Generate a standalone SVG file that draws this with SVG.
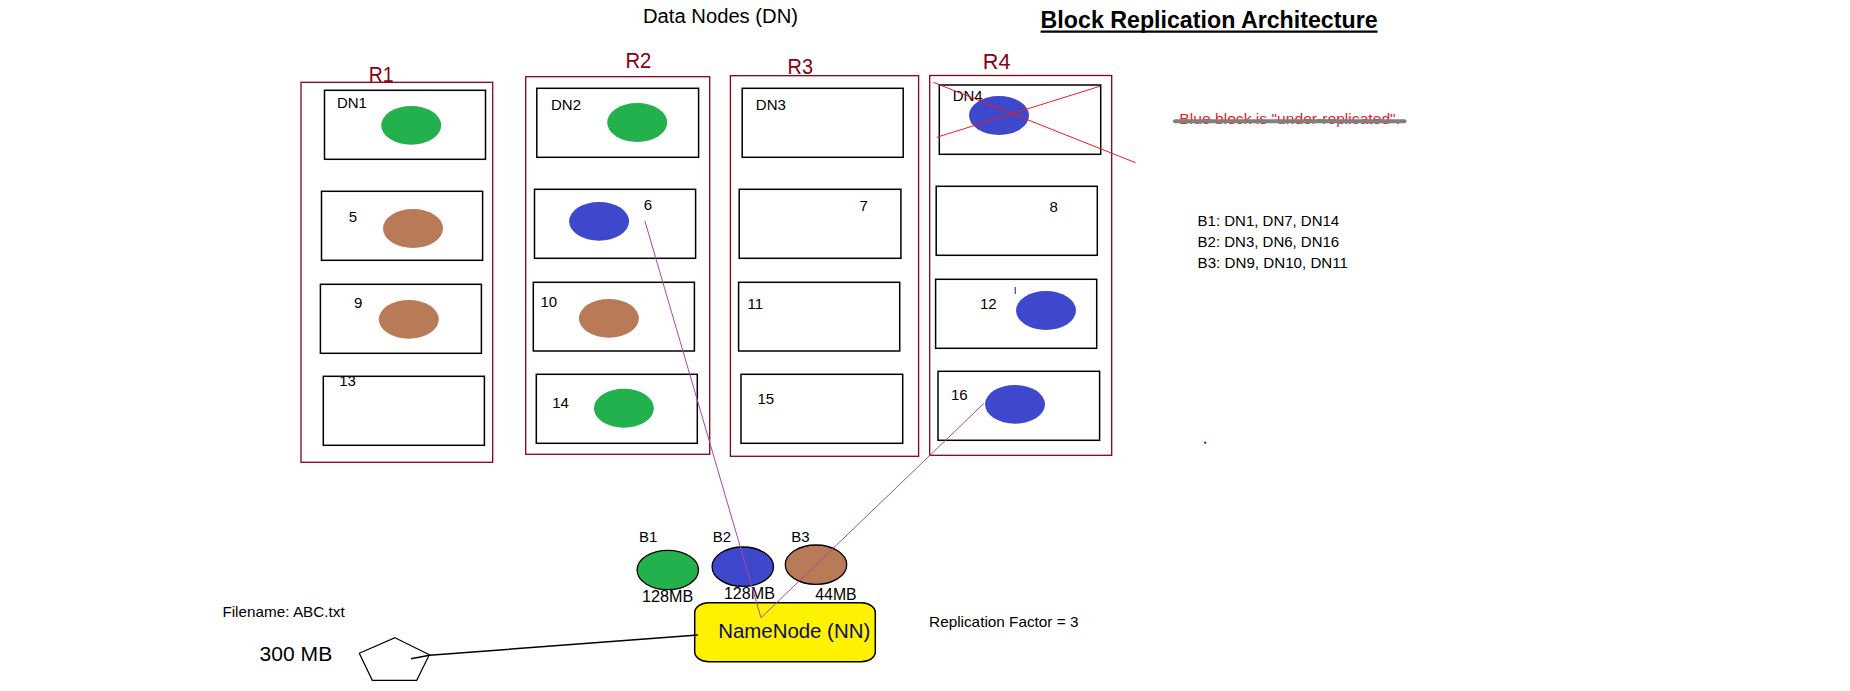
<svg xmlns="http://www.w3.org/2000/svg" width="1850" height="691" viewBox="0 0 1850 691">
<style>
text{font-family:"Liberation Sans",Arial,sans-serif;fill:#000}
.lbl{font-size:15px}
.rk{font-size:22px;fill:#880015}
.rack{fill:none;stroke:#880015;stroke-width:1.3}
.dn{fill:#fff;stroke:#000;stroke-width:1.5}
.g{fill:#22B14C}.br{fill:#B97A57}.bl{fill:#3F48CC}
.blk{stroke:#000;stroke-width:1.3}
.pl{fill:none;stroke:#A349A4;stroke-width:1}
</style>
<rect width="1850" height="691" fill="#fff"/>
<text x="643" y="23.3" font-size="20" textLength="155" lengthAdjust="spacingAndGlyphs">Data Nodes (DN)</text>
<g id="title">
<text x="1040.6" y="28.3" font-size="23" font-weight="bold" textLength="337" lengthAdjust="spacingAndGlyphs">Block Replication Architecture</text>
<line x1="1040.6" y1="31.7" x2="1377.5" y2="31.7" stroke="#000" stroke-width="2.3"/>
</g>
<g id="R1">
<rect class="rack" x="301" y="82.3" width="191.7" height="380"/>
<text class="rk" x="368.7" y="81.7" textLength="24.8" lengthAdjust="spacingAndGlyphs">R1</text>
</g>
<g id="R2">
<rect class="rack" x="525.7" y="76.7" width="184" height="377.6"/>
<text class="rk" x="625.4" y="68.3" textLength="25.9" lengthAdjust="spacingAndGlyphs">R2</text>
</g>
<g id="R3">
<rect class="rack" x="730.4" y="75.7" width="188.2" height="380.6"/>
<text class="rk" x="787.6" y="74" textLength="25.4" lengthAdjust="spacingAndGlyphs">R3</text>
</g>
<g id="R4">
<rect class="rack" x="929.7" y="75.5" width="182" height="379.8"/>
<text class="rk" x="982.8" y="69.3" textLength="27.7" lengthAdjust="spacingAndGlyphs">R4</text>
</g>
<g id="DN1"><rect class="dn" x="324.5" y="90.3" width="161" height="69"/><text class="lbl" x="336.9" y="108.3">DN1</text><ellipse class="g" cx="411.2" cy="125.3" rx="30" ry="19.4"/></g>
<g id="DN2"><rect class="dn" x="536.8" y="88.3" width="161.8" height="69"/><text class="lbl" x="551" y="110">DN2</text><ellipse class="g" cx="637.2" cy="122.5" rx="30" ry="19.5"/></g>
<g id="DN3"><rect class="dn" x="742.2" y="88.3" width="161" height="69"/><text class="lbl" x="755.8" y="110">DN3</text></g>
<g id="DN4"><rect class="dn" x="939.3" y="85" width="161.4" height="69.3"/><text class="lbl" x="952.7" y="101">DN4</text><ellipse class="bl" cx="999" cy="115.5" rx="30" ry="19.5"/></g>
<g id="DN5"><rect class="dn" x="321.5" y="191.3" width="161.1" height="69"/><text class="lbl" x="348.7" y="221.7">5</text><ellipse class="br" cx="413" cy="228.5" rx="30" ry="19.5"/></g>
<g id="DN6"><rect class="dn" x="534.5" y="189.3" width="161.1" height="69"/><text class="lbl" x="643.7" y="210">6</text><ellipse class="bl" cx="599.1" cy="221.3" rx="30" ry="19.4"/></g>
<g id="DN7"><rect class="dn" x="739.2" y="189.3" width="161.7" height="69"/><text class="lbl" x="859.6" y="210.7">7</text></g>
<g id="DN8"><rect class="dn" x="936.2" y="186.3" width="161.1" height="69"/><text class="lbl" x="1049.5" y="211.7">8</text></g>
<g id="DN9"><rect class="dn" x="320.4" y="284.3" width="161" height="69"/><text class="lbl" x="354" y="308.3">9</text><ellipse class="br" cx="408.8" cy="319.3" rx="30" ry="19.4"/></g>
<g id="DN10"><rect class="dn" x="533.3" y="282.3" width="161.1" height="68.7"/><text class="lbl" x="540.4" y="306.7">10</text><ellipse class="br" cx="608.9" cy="318.3" rx="30" ry="19.4"/></g>
<g id="DN11"><rect class="dn" x="738.6" y="282.3" width="161.1" height="68.7"/><text class="lbl" x="747.5" y="309">11</text></g>
<g id="DN12"><rect class="dn" x="935.6" y="279.3" width="161.1" height="69"/><text class="lbl" x="979.9" y="309">12</text><line x1="1015.2" y1="287" x2="1015.2" y2="294" stroke="#223" stroke-width="1"/><ellipse class="bl" cx="1046" cy="310.5" rx="30" ry="19.5"/></g>
<g id="DN13"><rect class="dn" x="323.3" y="376.3" width="161.1" height="69"/><text class="lbl" x="339.2" y="385.7">13</text></g>
<g id="DN14"><rect class="dn" x="536.3" y="374.3" width="161" height="69"/><text class="lbl" x="552.2" y="408.3">14</text><ellipse class="g" cx="623.9" cy="408.2" rx="30" ry="19.5"/></g>
<g id="DN15"><rect class="dn" x="741" y="374.3" width="161.7" height="69"/><text class="lbl" x="757.5" y="404">15</text></g>
<g id="DN16"><rect class="dn" x="938" y="371.3" width="161.6" height="69"/><text class="lbl" x="951" y="400">16</text><ellipse class="bl" cx="1015" cy="404.3" rx="30" ry="19.4"/></g>
<g id="cross">
<line x1="933.3" y1="82.3" x2="1135.6" y2="162.7" stroke="#ED1C24" stroke-width="1"/>
<line x1="936.7" y1="137.3" x2="1100.7" y2="86" stroke="#ED1C24" stroke-width="1"/>
</g>
<g id="note">
<text x="1179.3" y="124" font-size="15" style="fill:#ED1C24" textLength="220.7" lengthAdjust="spacingAndGlyphs">Blue block is "under-replicated".</text>
<line x1="1175" y1="121.3" x2="1404.5" y2="121.3" stroke="#7F7F7F" stroke-width="4" stroke-linecap="round"/>
</g>
<g id="mapping">
<text class="lbl" x="1197.6" y="225.7" textLength="141.6" lengthAdjust="spacingAndGlyphs">B1: DN1, DN7, DN14</text>
<text class="lbl" x="1197.6" y="246.7" textLength="141.6" lengthAdjust="spacingAndGlyphs">B2: DN3, DN6, DN16</text>
<text class="lbl" x="1197.6" y="267.7" textLength="150.4" lengthAdjust="spacingAndGlyphs">B3: DN9, DN10, DN11</text>
</g>
<rect x="1204.2" y="441.7" width="2" height="2" fill="#880015"/>
<g id="B1"><text class="lbl" x="638.9" y="541.7">B1</text><ellipse class="g blk" cx="667.8" cy="570" rx="30.7" ry="19.7"/><text x="641.9" y="602.3" font-size="16" textLength="51.3" lengthAdjust="spacingAndGlyphs">128MB</text></g>
<g id="B2"><text class="lbl" x="712.7" y="541.7">B2</text><ellipse class="bl blk" cx="742.8" cy="566.7" rx="30.7" ry="19.7"/><text x="723.9" y="599" font-size="16" textLength="51" lengthAdjust="spacingAndGlyphs">128MB</text></g>
<g id="B3"><text class="lbl" x="791.2" y="541.7">B3</text><ellipse class="br blk" cx="816" cy="564.7" rx="30.7" ry="19.7"/><text x="815.3" y="600" font-size="16" textLength="41.3" lengthAdjust="spacingAndGlyphs">44MB</text></g>
<g id="NameNode">
<rect x="694.7" y="602.8" width="180.6" height="59" rx="14" ry="10" fill="#FFF200" stroke="#000" stroke-width="1.5"/>
<text x="718.2" y="637.5" font-size="20.5" style="fill:#0D0D5A" textLength="152" lengthAdjust="spacingAndGlyphs">NameNode (NN)</text>
</g>
<g id="file">
<text class="lbl" x="222.4" y="616.7" textLength="122.3" lengthAdjust="spacingAndGlyphs">Filename: ABC.txt</text>
<text x="259.6" y="661" font-size="21" textLength="72.6" lengthAdjust="spacingAndGlyphs">300 MB</text>
<polygon points="395,637.7 429.3,654.7 416.7,680.3 372.3,680.3 359.3,653.3" fill="none" stroke="#000" stroke-width="1.2"/>
</g>
<g id="connectors">
<line class="pl" x1="644.9" y1="221" x2="761" y2="617.7"/>
<line class="pl" x1="984" y1="403.3" x2="761" y2="617.7"/>
<polyline points="411,658.7 429.5,655.3 698,635" fill="none" stroke="#000" stroke-width="1.5"/>
</g>
<text class="lbl" x="929.1" y="626.7" textLength="149.3" lengthAdjust="spacingAndGlyphs">Replication Factor = 3</text>
</svg>
